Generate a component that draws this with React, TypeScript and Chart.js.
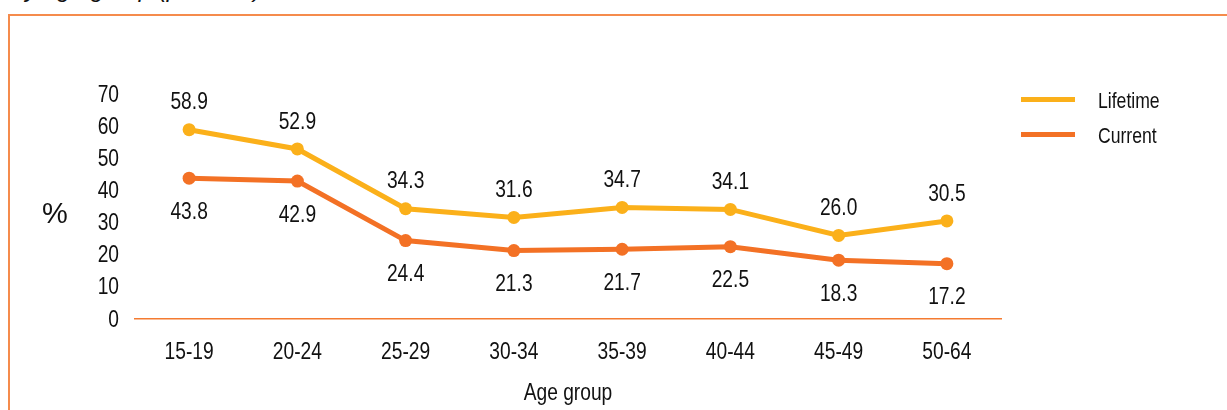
import React, { useEffect, useRef } from "react";
import { Chart, registerables } from "chart.js";

Chart.register(...registerables);

const categories = ["15-19", "20-24", "25-29", "30-34", "35-39", "40-44", "45-49", "50-64"];
const lifetime = [58.9, 52.9, 34.3, 31.6, 34.7, 34.1, 26.0, 30.5];
const current = [43.8, 42.9, 24.4, 21.3, 21.7, 22.5, 18.3, 17.2];
const seriesNames = ["Lifetime", "Current"];
const yTicks = [0, 10, 20, 30, 40, 50, 60, 70];
const xTitle = "Age group";
const yTitle = "%";
const titleText = "by age group (per cent)";

const FONT = "'Liberation Sans', Arial, sans-serif";
const SX = 0.8;
const C_LIFE = "#fbb01a";
const C_CUR = "#f37125";
const C_AXIS = "#f47b31";
const C_TEXT = "#111111";

function txt(ctx: any, s: string, x: number, y: number, size: number, align: string, sx = SX) {
  ctx.save();
  ctx.translate(x, y);
  ctx.scale(sx, 1);
  ctx.font = `${size}px ${FONT}`;
  ctx.textAlign = align;
  ctx.textBaseline = "middle";
  ctx.fillStyle = C_TEXT;
  ctx.fillText(s, 0, 0);
  ctx.restore();
}

const overlay = {
  id: "overlay",
  afterDatasetsDraw(chart: any) {
    const ctx = chart.ctx;
    const { left, right, bottom, top } = chart.chartArea;
    const xs = chart.scales.x;
    const ys = chart.scales.y;
    // data labels
    chart.data.datasets.forEach((ds: any, di: number) => {
      const meta = chart.getDatasetMeta(di);
      meta.data.forEach((pt: any, i: number) => {
        const v = ds.data[i] as number;
        const off = di === 0 ? -27 : 34;
        txt(ctx, v.toFixed(1), pt.x, pt.y + off, 24, "center");
      });
    });
    // y ticks
    yTicks.forEach((v) => txt(ctx, String(v), left - 16, ys.getPixelForValue(v) + 1, 24, "right"));
    // x ticks
    categories.forEach((c, i) => txt(ctx, c, xs.getPixelForValue(i), bottom + 33, 24, "center"));
    // axis titles
    txt(ctx, xTitle, (left + right) / 2, bottom + 74, 24, "center");
    txt(ctx, yTitle, left - 80, ys.getPixelForValue(32.5), 29, "center", 1);
    // legend
    const colors = [C_LIFE, C_CUR];
    seriesNames.forEach((name, i) => {
      const y = top + 5.5 + i * 35;
      ctx.save();
      ctx.strokeStyle = colors[i];
      ctx.lineWidth = 5;
      ctx.beginPath();
      ctx.moveTo(right + 20, y);
      ctx.lineTo(right + 74, y);
      ctx.stroke();
      ctx.restore();
      txt(ctx, name, right + 97, y + 2, 22, "left");
    });
  },
};

export default function App() {
  const ref = useRef<HTMLCanvasElement>(null);
  useEffect(() => {
    if (!ref.current) return;
    const mk = (label: string, data: number[], color: string) => ({
      label,
      data,
      borderColor: color,
      backgroundColor: color,
      pointBackgroundColor: color,
      borderWidth: 5,
      pointRadius: 6.5,
      pointBorderWidth: 0,
      tension: 0,
    });
    const chart = new Chart(ref.current, {
      type: "line",
      data: {
        labels: categories,
        datasets: [mk(seriesNames[0], lifetime, C_LIFE), mk(seriesNames[1], current, C_CUR)],
      },
      options: {
        responsive: false,
        animation: false,
        devicePixelRatio: 1,
        layout: { padding: { top: 94, right: 226, left: 0, bottom: 0 } },
        plugins: { legend: { display: false }, tooltip: { enabled: false } },
        scales: {
          x: {
            type: "category",
            offset: true,
            grid: { display: false, drawTicks: false },
            border: { display: true, color: C_AXIS, width: 1.5 },
            ticks: { display: false },
            afterFit: (s: any) => { s.height = 91; },
          },
          y: {
            min: 0,
            max: 70,
            grid: { display: false, drawTicks: false },
            border: { display: false },
            ticks: { display: false, stepSize: 10 },
            afterFit: (s: any) => { s.width = 135; },
          },
        },
      },
      plugins: [overlay],
    });
    return () => chart.destroy();
  }, []);

  return (
    <div style={{ position: "absolute", left: 0, top: 0, width: 1227, height: 410, overflow: "hidden", background: "#fff" }}>
      <div
        style={{
          position: "absolute",
          left: 12,
          top: -25,
          fontFamily: "'Liberation Sans', sans-serif",
          fontStyle: "italic",
          fontSize: 24,
          lineHeight: "28px",
          color: C_TEXT,
          whiteSpace: "nowrap",
        }}
      >
        {titleText}
      </div>
      <div
        style={{
          position: "absolute",
          left: 8,
          top: 14,
          width: 1300,
          height: 500,
          borderTop: "2px solid #f58b4c",
          borderLeft: "2.5px solid #f58b4c",
        }}
      />
      <canvas ref={ref} width={1227} height={410} style={{ position: "absolute", left: 0, top: 0, display: "block" }} />
    </div>
  );
}
